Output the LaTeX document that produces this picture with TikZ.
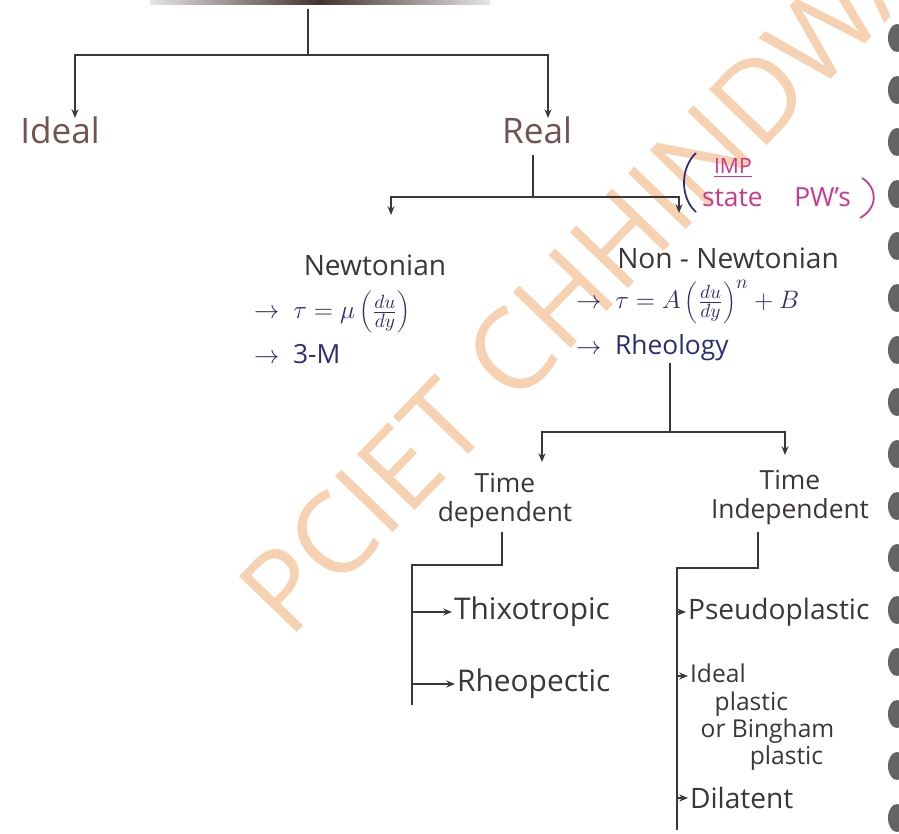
\documentclass[tikz,border=0pt]{standalone}
\usepackage{fontspec}
\setmainfont{Open Sans}
\usetikzlibrary{arrows.meta,positioning,calc}
\definecolor{ink}{RGB}{60,55,55}
\definecolor{brown}{RGB}{115,82,82}
\definecolor{navy}{RGB}{45,45,115}
\definecolor{pink}{RGB}{205,55,145}
\definecolor{mark}{RGB}{246,210,178}
\definecolor{hole}{RGB}{100,100,100}

\begin{document}
\begin{tikzpicture}[x=0.02cm,y=-0.02cm,
    line/.style={draw=ink,line width=1pt},
    arr/.style={line,-{Stealth[length=5pt,width=4pt]}},
    kind/.style={text=brown,font=\fontsize{20}{24}\selectfont,inner sep=1pt},
    lbl/.style={text=ink,font=\fontsize{16}{19}\selectfont,inner sep=1pt},
    eqn/.style={text=navy,font=\fontsize{15}{18}\selectfont,anchor=west,inner sep=1pt}]
    \useasboundingbox (0,0) rectangle (899,833);
    \fill[white] (0,0) rectangle (899,833);
    % watermark and notebook holes
    \node[rotate=46,anchor=south west,text=mark,font=\fontsize{64}{64}\selectfont] (wm) at (290,650) {PCIET CHHINDWARA};
    \foreach \y in {38,90,...,833}{\fill[hole] (897,\y) ellipse (9 and 14);}
    \shade[left color=black!10,right color=black!10,middle color=brown!60!black] (150,0) rectangle (490,4);
    \coordinate (head) at (308,9);
    % first level
    \node[kind] (ideal) at (60,130) {Ideal};
    \node[kind] (real) at (537,130) {Real};
    \coordinate (j1) at (308,55);
    \coordinate (i1) at (75,118);
    \coordinate (i2) at (548,118);
    \draw[line] (head) -- (j1);
    \draw[arr] (j1) -| (i1);
    \draw[arr] (j1) -| (i2);
    % newtonian / non-newtonian
    \node[lbl] (newt) at (375,265) {Newtonian};
    \node[lbl] (nonnewt) at (728,258) {Non - Newtonian};
    \coordinate (r0) at (533,155);
    \coordinate (j2) at (533,197);
    \coordinate (n1) at (391,215);
    \coordinate (n2) at (679,213);
    \draw[line] (r0) -- (j2);
    \draw[arr] (j2) -| (n1);
    \draw[arr] (j2) -| (n2);
    \node[text=pink,font=\fontsize{12}{14}\selectfont,anchor=west,inner sep=1pt] (imp) at (712,168) {\underline{IMP}};
    \node[text=pink,font=\fontsize{15}{17}\selectfont,anchor=west,inner sep=1pt] (state) at (700,197) {state\hspace{18pt}PW's};
    \draw[navy,line width=1pt] (696,153) .. controls (680,168) and (680,198) .. (696,212);
    \draw[pink,line width=1pt] (862,178) .. controls (878,188) and (878,208) .. (860,218);
    \node[eqn] (eq1) at (252,312) {$\rightarrow\ \tau = \mu\left(\frac{du}{dy}\right)$};
    \node[eqn] (eq2) at (252,354) {$\rightarrow$\ \ 3-M};
    \node[eqn] (eq3) at (574,302) {$\rightarrow\ \tau = A\left(\frac{du}{dy}\right)^{n} + B$};
    \node[eqn] (rheol) at (574,348) {$\rightarrow$\ \ Rheology};
    % rheology split
    \coordinate (j3) at (670,432);
    \coordinate (t1) at (542,462);
    \coordinate (t2) at (785,455);
    \draw[line] (rheol.south -| j3) -- (j3);
    \draw[arr] (j3) -| (t1);
    \draw[arr] (j3) -| (t2);
    \node[lbl,align=center,font=\fontsize{15}{16.5}\selectfont] (tdep) at (505,500) {Time\\dependent};
    \node[lbl,align=center,font=\fontsize{15}{16.5}\selectfont] (tind) at (790,497) {Time\\Independent};
    % time dependent
    \coordinate (k4) at (502,532);
    \coordinate (j4) at (412,565);
    \coordinate (e4) at (412,705);
    \draw[line] (k4) -- (k4 |- j4) -- (j4) -- (e4);
    \node[lbl,anchor=west,font=\fontsize{17}{20}\selectfont] (thix) at (452,612) {Thixotropic};
    \node[lbl,anchor=west,font=\fontsize{17}{20}\selectfont] (rheo) at (455,684) {Rheopectic};
    \draw[arr] (thix.west -| j4) -- (thix.west);
    \draw[arr] (rheo.west -| j4) -- (rheo.west);
    % time independent
    \coordinate (k5) at (758,532);
    \coordinate (j5) at (677,568);
    \coordinate (e5) at (677,830);
    \draw[line] (k5) -- (k5 |- j5) -- (j5) -- (e5);
    \node[lbl,anchor=west] (pseudo) at (686,612) {Pseudoplastic};
    \node[lbl,anchor=north west,align=left,font=\fontsize{14}{15.5}\selectfont] (bing) at (688,662) {Ideal\\\hspace{14pt}plastic\\\hspace{6pt}or Bingham\\\hspace{34pt}plastic};
    \node[lbl,anchor=west] (dilat) at (688,798) {Dilatent};
    \coordinate (b1) at (677,676);
    \draw[arr] (pseudo.west -| j5) -- (pseudo.west);
    \draw[arr] (b1) -- (b1 -| bing.west);
    \draw[arr] (dilat.west -| j5) -- (dilat.west);
  \end{tikzpicture}
\end{document}
